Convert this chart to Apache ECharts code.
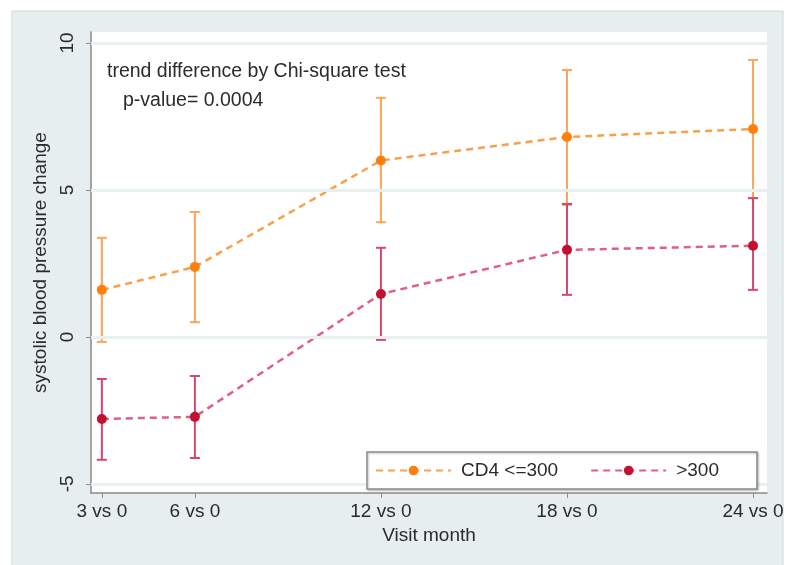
<!DOCTYPE html>
<html>
<head>
<meta charset="utf-8">
<script src="https://cdn.jsdelivr.net/npm/echarts@6/dist/echarts.min.js"></script>
<style>
  html, body { margin: 0; padding: 0; background: #fff; }
  #main { width: 790px; height: 565px; }
</style>
</head>
<body>
<div id="main"></div>
<script>
// visit months (x) and their tick labels
var months = [3, 6, 12, 18, 24];
var monthLabels = ['3 vs 0', '6 vs 0', '12 vs 0', '18 vs 0', '24 vs 0'];
var yTicks = [-5, 0, 5, 10];

// CD4 <=300
var lowMean  = [1.60, 2.38, 6.00, 6.80, 7.07];
var lowLower = [-0.17, 0.50, 3.90, 4.49, 4.72];
var lowUpper = [3.37, 4.25, 8.13, 9.08, 9.42];

// >300
var highMean  = [-2.79, -2.72, 1.46, 2.96, 3.10];
var highLower = [-4.18, -4.12, -0.10, 1.43, 1.60];
var highUpper = [-1.43, -1.33, 3.03, 4.52, 4.72];

var FONT = '"Liberation Sans", Arial, sans-serif';
var TXT = '#2b2b2b';

function pairs(xs, ys) {
  return xs.map(function (x, i) { return [x, ys[i]]; });
}
function ciData(lo, hi) {
  return months.map(function (m, i) { return [m, lo[i], hi[i]]; });
}
// vertical bar with caps from lower to upper bound
function errorBars(color) {
  return function (params, api) {
    var p1 = api.coord([api.value(0), api.value(1)]);
    var p2 = api.coord([api.value(0), api.value(2)]);
    var w = 5;
    var st = { stroke: color, lineWidth: 2 };
    return {
      type: 'group',
      children: [
        { type: 'line', shape: { x1: p1[0], y1: p1[1], x2: p2[0], y2: p2[1] }, style: st },
        { type: 'line', shape: { x1: p1[0] - w, y1: p1[1], x2: p1[0] + w, y2: p1[1] }, style: st },
        { type: 'line', shape: { x1: p2[0] - w, y1: p2[1], x2: p2[0] + w, y2: p2[1] }, style: st }
      ]
    };
  };
}

var chart = echarts.init(document.getElementById('main'));
chart.setOption({
  animation: false,
  backgroundColor: '#fff',
  textStyle: { fontFamily: FONT },
  graphic: [
    {
      type: 'rect', z: -10,
      shape: { x: 12, y: 11, width: 771, height: 556 },
      style: { fill: '#e7eef0', stroke: '#cfd6d8', lineWidth: 1 }
    },
    {
      type: 'text', left: 107, top: 62, z: 10,
      style: { text: 'trend difference by Chi-square test', font: '19.5px ' + FONT, fill: TXT }
    },
    {
      type: 'text', left: 123, top: 91, z: 10,
      style: { text: 'p-value= 0.0004', font: '19.5px ' + FONT, fill: TXT }
    }
  ],
  grid: {
    left: 91, right: 23, top: 32, bottom: 72,
    show: true, backgroundColor: '#fff', borderWidth: 0
  },
  legend: {
    left: 367, top: 452, z: 20,
    padding: [9, 38, 9, 8],
    itemGap: 32,
    itemWidth: 75, itemHeight: 12,
    backgroundColor: '#fff',
    borderColor: '#8c8c8c', borderWidth: 1.5,
    shadowColor: 'rgba(0,0,0,0.25)', shadowBlur: 2, shadowOffsetX: 1, shadowOffsetY: 1,
    textStyle: { fontSize: 19, color: TXT, fontFamily: FONT, padding: [0, 0, 0, 5] },
    data: ['CD4 <=300', '>300']
  },
  xAxis: {
    type: 'value', min: 2.65, max: 24.45,
    name: 'Visit month', nameLocation: 'middle', nameGap: 31,
    nameTextStyle: { fontSize: 19, color: TXT },
    axisLine: { show: true, onZero: false, lineStyle: { color: '#8a8a8a', width: 1.5 } },
    axisTick: { show: true, length: 5, customValues: months, lineStyle: { color: '#8a8a8a' } },
    axisLabel: {
      fontSize: 19, color: TXT, margin: 9,
      customValues: months,
      formatter: function (v) { return monthLabels[months.indexOf(v)]; }
    },
    splitLine: { show: false }
  },
  yAxis: {
    type: 'value', min: -5.31, max: 10.37,
    name: 'systolic blood pressure change', nameLocation: 'middle', nameGap: 34,
    nameTextStyle: { fontSize: 19, color: TXT },
    axisLine: { show: true, onZero: false, lineStyle: { color: '#8a8a8a', width: 1.5 } },
    axisTick: { show: true, length: 5, customValues: yTicks, lineStyle: { color: '#8a8a8a' } },
    axisLabel: { fontSize: 19, color: TXT, margin: 14, rotate: 90, customValues: yTicks },
    splitLine: { show: false }
  },
  series: [
    {
      name: 'gridlines', type: 'line', data: [], silent: true, z: 0,
      markLine: {
        silent: true, symbol: 'none', label: { show: false },
        lineStyle: { color: '#e9f0f2', width: 3, type: 'solid' },
        data: yTicks.map(function (v) { return { yAxis: v }; })
      }
    },
    {
      name: 'CD4 <=300 CI', type: 'custom', z: 2,
      renderItem: errorBars('#f9a65a'),
      data: ciData(lowLower, lowUpper)
    },
    {
      name: '>300 CI', type: 'custom', z: 2,
      renderItem: errorBars('#d4466a'),
      data: ciData(highLower, highUpper)
    },
    {
      name: 'CD4 <=300', type: 'line', z: 3,
      symbol: 'circle', symbolSize: 10,
      itemStyle: { color: '#ff7f0a' },
      lineStyle: { color: '#f9a04c', width: 2.5, type: [7, 5] },
      data: pairs(months, lowMean)
    },
    {
      name: '>300', type: 'line', z: 3,
      symbol: 'circle', symbolSize: 10,
      itemStyle: { color: '#c4102f' },
      lineStyle: { color: '#df6080', width: 2.5, type: [7, 5] },
      data: pairs(months, highMean)
    }
  ]
});
</script>
</body>
</html>
